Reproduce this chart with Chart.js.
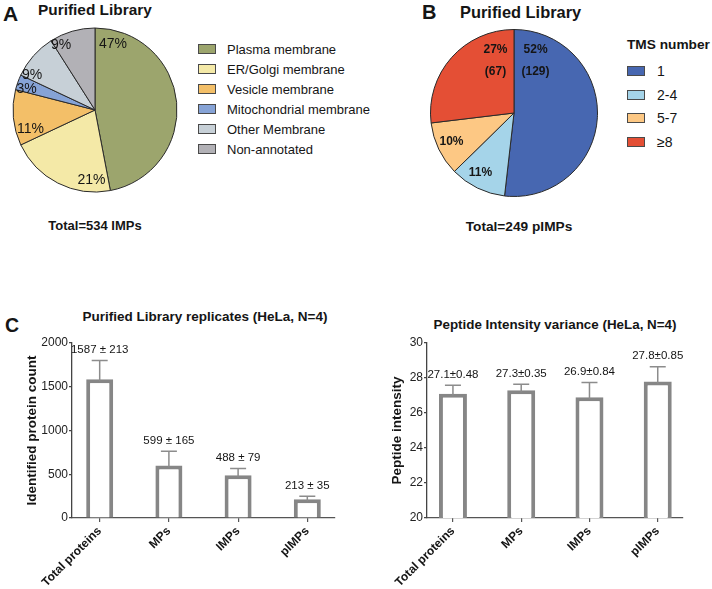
<!DOCTYPE html>
<html><head><meta charset="utf-8">
<script src="https://cdn.jsdelivr.net/npm/chart.js@4/dist/chart.umd.min.js"></script>
<style>
html,body{margin:0;padding:0;background:#fff;}
#wrap{position:relative;width:712px;height:589px;overflow:hidden;font-family:"Liberation Sans",Arial,sans-serif;color:#151515;}
.t{position:absolute;line-height:1;white-space:nowrap;transform:translateY(-50%);}
.c{transform:translate(-50%,-50%);}
.b{font-weight:bold;}
canvas{position:absolute;}
.sw{position:absolute;width:16px;height:8px;border:1px solid #4a4a4a;}
</style></head><body>
<div id="wrap">
  <div class="t b" style="left:3px;top:12.5px;font-size:21px;">A</div>
  <div class="t b" style="left:38px;top:9.5px;font-size:15.4px;">Purified Library</div>
  <div class="t b c" style="left:95px;top:225px;font-size:13px;">Total=534 IMPs</div>

  <div class="t b" style="left:422px;top:11.5px;font-size:20px;">B</div>
  <div class="t b" style="left:460px;top:12px;font-size:16.4px;">Purified Library</div>
  <div class="t b c" style="left:519px;top:227px;font-size:13.7px;">Total=249 pIMPs</div>
  <div class="t b" style="left:627px;top:45px;font-size:13.7px;">TMS number</div>

  <div class="t b" style="left:5px;top:326px;font-size:19.5px;">C</div>
  <div class="t b c" style="left:205px;top:317px;font-size:13.5px;">Purified Library replicates (HeLa, N=4)</div>
  <div class="t b c" style="left:555px;top:325px;font-size:13.4px;">Peptide Intensity variance (HeLa, N=4)</div>

  <canvas id="pieA" width="180" height="180" style="left:5px;top:20px;width:180px;height:180px;"></canvas>
  <canvas id="pieB" width="180" height="180" style="left:424px;top:23px;width:180px;height:180px;"></canvas>
  <canvas id="barC" width="356" height="289" style="left:0px;top:300px;width:356px;height:289px;"></canvas>
  <canvas id="barD" width="356" height="289" style="left:356px;top:300px;width:356px;height:289px;"></canvas>
</div>
<script>
// ---------- data ----------
const membraneCategories = ['Plasma membrane','ER/Golgi membrane','Vesicle membrane','Mitochondrial membrane','Other Membrane','Non-annotated'];
const membranePercents = [47, 21, 11, 3, 9, 9];
const tmsCategories = ['1','2-4','5-7','\u22658'];
const tmsCounts = [129, 27, 26, 67];
const tmsPercents = [52, 11, 10, 27];
const barCategories = ['Total proteins','MPs','IMPs','pIMPs'];
const proteinCounts = [1587, 599, 488, 213];
const proteinCountSD = [213, 165, 79, 35];
const peptideIntensity = [27.1, 27.3, 26.9, 27.8];
const peptideIntensitySD = [0.48, 0.35, 0.84, 0.85];
const countTicks = [0, 500, 1000, 1500, 2000];
const intensityTicks = [20, 22, 24, 26, 28, 30];

// ---------- styles ----------
const membraneColors = ['#9ca56d','#f4e9a7','#f3bf68','#86a3d6','#c7d0d7','#b2b1b6'];
const tmsColors = ['#4767b1','#a5d4e9','#fdc884','#e44f35'];
const FONT = '"Liberation Sans", Arial, sans-serif';
Chart.defaults.font.family = FONT;
Chart.defaults.color = '#151515';

// ---------- HTML legends ----------
const wrap = document.getElementById('wrap');
function addLegend(cats, colors, boxLeft, textLeft, y0, step, fontSize) {
  cats.forEach((c, i) => {
    const y = y0 + i * step;
    const sw = document.createElement('div');
    sw.className = 'sw';
    sw.style.left = boxLeft + 'px';
    sw.style.top = (y - 5) + 'px';
    sw.style.background = colors[i];
    wrap.appendChild(sw);
    const t = document.createElement('div');
    t.className = 't';
    t.style.left = textLeft + 'px';
    t.style.top = y + 'px';
    t.style.fontSize = fontSize + 'px';
    t.textContent = c;
    wrap.appendChild(t);
  });
}
addLegend(membraneCategories, membraneColors, 198, 227, 48.5, 20, 13);
addLegend(tmsCategories, tmsColors, 627, 657, 71, 23.6, 14);

// ---------- plugins ----------
const sliceLabels = {
  id: 'sliceLabels',
  afterDatasetsDraw(chart, args, opts) {
    const {ctx} = chart;
    const meta = chart.getDatasetMeta(0);
    ctx.save();
    ctx.fillStyle = opts.color || '#151515';
    ctx.font = opts.font;
    ctx.textAlign = 'center';
    ctx.textBaseline = 'middle';
    meta.data.forEach((arc, i) => {
      const p = arc.getProps(['x','y','outerRadius'], true);
      const a = opts.angles[i] * Math.PI / 180;
      const r = p.outerRadius * opts.radii[i];
      const x = p.x + r * Math.sin(a);
      const y = p.y - r * Math.cos(a);
      const lines = opts.text(i);
      const lh = opts.lineGap || 22;
      lines.forEach((ln, k) => {
        ctx.fillText(ln, x, y + (k - (lines.length - 1) / 2) * lh);
      });
    });
    ctx.restore();
  }
};

const errorBars = {
  id: 'errorBars',
  afterDatasetsDraw(chart, args, opts) {
    const {ctx} = chart;
    const meta = chart.getDatasetMeta(0);
    const ys = chart.scales.y;
    const data = chart.data.datasets[0].data;
    ctx.save();
    meta.data.forEach((bar, i) => {
      const v = data[i].y, e = opts.errors[i];
      const yTop = ys.getPixelForValue(v + e);
      const x = bar.x;
      ctx.strokeStyle = opts.color;
      ctx.lineWidth = opts.lineWidth;
      ctx.beginPath();
      ctx.moveTo(x, bar.y + 2);
      ctx.lineTo(x, yTop);
      ctx.moveTo(x - opts.cap, yTop);
      ctx.lineTo(x + opts.cap, yTop);
      ctx.stroke();
      ctx.fillStyle = '#151515';
      ctx.font = opts.font;
      ctx.textAlign = 'center';
      ctx.textBaseline = 'middle';
      ctx.fillText(opts.labels[i], x, yTop - opts.gap);
    });
    ctx.restore();
  }
};

// ---------- pies ----------
function pie(id, values, colors, radius, labelOpts) {
  return new Chart(document.getElementById(id), {
    type: 'pie',
    data: { labels: values.map((_, i) => i), datasets: [{ data: values, backgroundColor: colors, borderColor: '#2a2a2a', borderWidth: 1 }] },
    options: {
      responsive: false, animation: false, radius: radius,
      layout: { padding: 0 },
      plugins: { legend: { display: false }, tooltip: { enabled: false }, sliceLabels: labelOpts }
    },
    plugins: [sliceLabels]
  });
}
pie('pieA', membranePercents, membraneColors, 82, {
  font: '14px ' + FONT,
  angles: [15.3, 182.9, 253.6, 287, 299, 332.4],
  radii: [0.834, 0.854, 0.82, 0.873, 0.878, 0.895],
  text: i => [membranePercents[i] + '%']
});
pie('pieB', tmsCounts, tmsColors, 83.5, {
  font: 'bold 12px ' + FONT,
  angles: [22.5, 209.2, 245.1, 340.4],
  radii: [0.674, 0.823, 0.825, 0.661],
  lineGap: 22,
  text: i => (i === 0 || i === tmsCounts.length - 1) ? [tmsPercents[i] + '%', '(' + tmsCounts[i] + ')'] : [tmsPercents[i] + '%']
});

// ---------- bars ----------
function bars(id, values, errs, labels, yMin, yMax, yTicks, yTitle, yWidth, titlePad, xMin, xMax, padRight, barPct) {
  return new Chart(document.getElementById(id), {
    type: 'bar',
    data: { datasets: [{
      data: values.map((v, i) => ({ x: i, y: v })),
      backgroundColor: '#ffffff', borderColor: '#868686', borderWidth: 4,
      borderSkipped: 'start', barPercentage: barPct, categoryPercentage: 1
    }] },
    options: {
      responsive: false, animation: false,
      layout: { padding: { left: 0, right: padRight, top: 43, bottom: 0 } },
      plugins: {
        legend: { display: false }, tooltip: { enabled: false },
        errorBars: { errors: errs, labels: labels, color: '#8c8c8c', lineWidth: 1.5, cap: 8, gap: 10.5, font: '11.5px ' + FONT }
      },
      scales: {
        x: {
          type: 'linear', min: xMin, max: xMax, offset: false,
          afterBuildTicks: s => { s.ticks = barCategories.map((_, i) => ({ value: i })); },
          afterFit: s => { s.height = 71; },
          ticks: { callback: v => barCategories[v], autoSkip: false, minRotation: 45, maxRotation: 45,
                   font: { size: 12, weight: 'bold' }, color: '#151515', padding: 2 },
          grid: { offset: false, drawOnChartArea: false, drawTicks: true, tickLength: 4, color: '#555', lineWidth: 1.2 },
          border: { display: true, color: '#555', width: 1.3 }
        },
        y: {
          type: 'linear', min: yMin, max: yMax,
          afterBuildTicks: s => { s.ticks = yTicks.map(v => ({ value: v })); },
          afterFit: s => { s.width = yWidth; },
          ticks: { callback: v => String(v), font: { size: 12 }, color: '#222', padding: 1 },
          grid: { drawOnChartArea: false, drawTicks: true, tickLength: 3, color: '#444', lineWidth: 1.2 },
          border: { display: true, color: '#444', width: 1.3 },
          title: { display: true, text: yTitle, font: { size: 13.5, weight: 'bold' }, color: '#151515', padding: { top: titlePad, bottom: 0 } }
        }
      }
    },
    plugins: [errorBars]
  });
}
bars('barC', proteinCounts, proteinCountSD,
  proteinCounts.map((v, i) => v + ' \u00b1 ' + proteinCountSD[i]),
  0, 2000, countTicks, 'Identified protein count', 72, 24, -0.4, 3.4, 21, 0.39);
bars('barD', peptideIntensity, peptideIntensitySD,
  peptideIntensity.map((v, i) => v.toFixed(1) + '\u00b1' + peptideIntensitySD[i].toFixed(2)),
  20, 30, intensityTicks, 'Peptide intensity', 71, 33, -0.38, 3.37, 29, 0.41);
</script>
</body></html>
